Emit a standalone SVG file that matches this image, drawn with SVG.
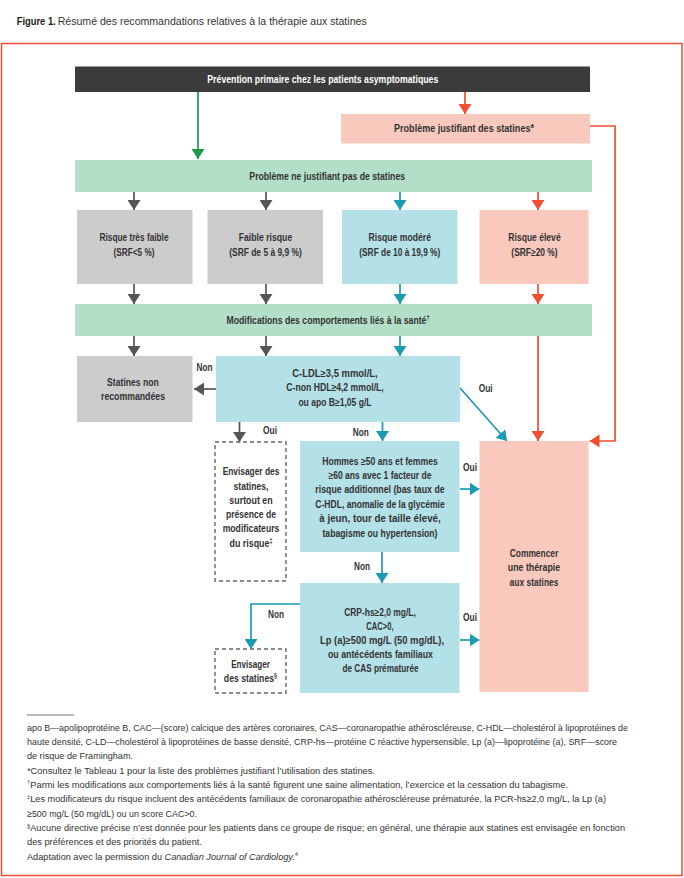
<svg xmlns="http://www.w3.org/2000/svg" width="684" height="878" viewBox="0 0 684 878">
<style>
text{font-family:"Liberation Sans",Arial,sans-serif;}
.b{font-size:10.3px;font-weight:bold;fill:#333;text-anchor:middle;}
.w{fill:#fff;}
.lbl{font-size:10.3px;font-weight:bold;fill:#333;text-anchor:middle;}
.fn{font-size:9.6px;fill:#333;}
.sup{font-size:6.5px;}
.fsup{font-size:6px;}
.dark{fill:#3b3b3b;}
.pink{fill:#f9c9bd;}
.green{fill:#b3dfc8;}
.gray{fill:#cccccc;}
.teal{fill:#b3e1e7;}
.dash{fill:#fff;stroke:#666;stroke-width:1.4;stroke-dasharray:4,3;}
.cg{fill:none;stroke:#555;stroke-width:1.7;}
.ct{fill:none;stroke:#1b9bb2;stroke-width:1.7;}
.cr{fill:none;stroke:#ef4e32;stroke-width:1.7;}
.cgr{fill:none;stroke:#1f9a4c;stroke-width:1.7;}
</style>
<defs>
<marker id="ag" viewBox="0 0 10 13" refX="10" refY="6.5" markerWidth="10" markerHeight="13" markerUnits="userSpaceOnUse" orient="auto"><path d="M0,0 L10,6.5 L0,13 z" fill="#555"/></marker>
<marker id="at" viewBox="0 0 10 13" refX="10" refY="6.5" markerWidth="10" markerHeight="13" markerUnits="userSpaceOnUse" orient="auto"><path d="M0,0 L10,6.5 L0,13 z" fill="#1b9bb2"/></marker>
<marker id="ar" viewBox="0 0 10 13" refX="10" refY="6.5" markerWidth="10" markerHeight="13" markerUnits="userSpaceOnUse" orient="auto"><path d="M0,0 L10,6.5 L0,13 z" fill="#ef4e32"/></marker>
<marker id="agr" viewBox="0 0 10 13" refX="10" refY="6.5" markerWidth="10" markerHeight="13" markerUnits="userSpaceOnUse" orient="auto"><path d="M0,0 L10,6.5 L0,13 z" fill="#1f9a4c"/></marker>
</defs>
<rect width="684" height="878" fill="#fff"/>
<text x="16.7" y="25" font-size="11.5" font-weight="bold" fill="#222" textLength="39" lengthAdjust="spacingAndGlyphs">Figure 1.</text>
<text x="57.7" y="25" font-size="11.5" fill="#333" textLength="309" lengthAdjust="spacingAndGlyphs">Résumé des recommandations relatives à la thérapie aux statines</text>
<rect id="frame" x="1.5" y="43.5" width="680.5" height="832" fill="none" stroke="#ef4e32" stroke-width="1.5"/>

<g id="connectors">
<path class="cgr" d="M198,92 V159" marker-end="url(#agr)"/>
<path class="cr" d="M465,92 V114" marker-end="url(#ar)"/>
<path class="cr" d="M590,126 H615 V441 H589.5" marker-end="url(#ar)"/>
<path class="cg" d="M134,192 V210" marker-end="url(#ag)"/>
<path class="cg" d="M266,192 V210" marker-end="url(#ag)"/>
<path class="ct" d="M400,192 V210" marker-end="url(#at)"/>
<path class="cr" d="M538,192 V210" marker-end="url(#ar)"/>
<path class="cg" d="M134,284 V304" marker-end="url(#ag)"/>
<path class="cg" d="M266,284 V304" marker-end="url(#ag)"/>
<path class="ct" d="M400,284 V304" marker-end="url(#at)"/>
<path class="cr" d="M538,284 V304" marker-end="url(#ar)"/>
<path class="cg" d="M134,336 V356" marker-end="url(#ag)"/>
<path class="cg" d="M266,336 V356" marker-end="url(#ag)"/>
<path class="ct" d="M400,336 V356" marker-end="url(#at)"/>
<path class="cr" d="M538,336 V441" marker-end="url(#ar)"/>
<path class="cg" d="M216,389 H194" marker-end="url(#ag)"/>
<path class="ct" d="M460,388 L507,441" marker-end="url(#at)"/>
<path class="cg" d="M239.5,422 V442" marker-end="url(#ag)"/>
<path class="ct" d="M382.5,422 V441" marker-end="url(#at)"/>
<path class="ct" d="M460,489 H479.5" marker-end="url(#at)"/>
<path class="ct" d="M382,552 V583" marker-end="url(#at)"/>
<path class="ct" d="M460,640 H479.5" marker-end="url(#at)"/>
<path class="ct" d="M300,604 H251 V649" marker-end="url(#at)"/>
<text class="lbl" x="204.6" y="370.5" textLength="16" lengthAdjust="spacingAndGlyphs">Non</text>
<text class="lbl" x="485.7" y="391.5" textLength="14" lengthAdjust="spacingAndGlyphs">Oui</text>
<text class="lbl" x="270" y="433.5" textLength="14" lengthAdjust="spacingAndGlyphs">Oui</text>
<text class="lbl" x="360.7" y="435.5" textLength="16" lengthAdjust="spacingAndGlyphs">Non</text>
<text class="lbl" x="470" y="470.5" textLength="14" lengthAdjust="spacingAndGlyphs">Oui</text>
<text class="lbl" x="362" y="569.5" textLength="16" lengthAdjust="spacingAndGlyphs">Non</text>
<text class="lbl" x="470" y="620.5" textLength="14" lengthAdjust="spacingAndGlyphs">Oui</text>
<text class="lbl" x="276" y="617.5" textLength="16" lengthAdjust="spacingAndGlyphs">Non</text>
</g>

<g id="n-prevention">
<rect class="dark" x="75" y="66.5" width="515" height="25.5"/>
<text class="b w" x="322.8" y="83" textLength="231" lengthAdjust="spacingAndGlyphs">Prévention primaire chez les patients asymptomatiques</text>
</g>
<g id="n-justifiant">
<rect class="pink" x="341" y="114" width="249" height="29.5"/>
<text class="b" x="464" y="132" textLength="140" lengthAdjust="spacingAndGlyphs">Problème justifiant des statines*</text>
</g>
<g id="n-nejustifiant">
<rect class="green" x="75" y="160" width="517" height="32"/>
<text class="b" x="327.2" y="179.5" textLength="155.7" lengthAdjust="spacingAndGlyphs">Problème ne justifiant pas de statines</text>
</g>
<g id="n-tresfaible">
<rect class="gray" x="77" y="210" width="115.5" height="74"/>
<text class="b" x="134" y="240.5" textLength="69" lengthAdjust="spacingAndGlyphs">Risque très faible</text>
<text class="b" x="134" y="255.5" textLength="41" lengthAdjust="spacingAndGlyphs">(SRF&lt;5 %)</text>
</g>
<g id="n-faible">
<rect class="gray" x="207.5" y="210" width="115.5" height="74"/>
<text class="b" x="265.5" y="240.5" textLength="53.5" lengthAdjust="spacingAndGlyphs">Faible risque</text>
<text class="b" x="265.5" y="255.5" textLength="72.5" lengthAdjust="spacingAndGlyphs">(SRF de 5 à 9,9 %)</text>
</g>
<g id="n-modere">
<rect class="teal" x="342" y="210" width="115.5" height="74"/>
<text class="b" x="399.8" y="240.5" textLength="62.5" lengthAdjust="spacingAndGlyphs">Risque modéré</text>
<text class="b" x="399.8" y="255.5" textLength="81" lengthAdjust="spacingAndGlyphs">(SRF de 10 à 19,9 %)</text>
</g>
<g id="n-eleve">
<rect class="pink" x="479.5" y="210" width="109" height="74"/>
<text class="b" x="534.5" y="240.5" textLength="52.3" lengthAdjust="spacingAndGlyphs">Risque élevé</text>
<text class="b" x="534.5" y="255.5" textLength="46.3" lengthAdjust="spacingAndGlyphs">(SRF≥20 %)</text>
</g>
<g id="n-modifications">
<rect class="green" x="75" y="304" width="517" height="32"/>
<text class="b" x="328" y="323.5" textLength="203" lengthAdjust="spacingAndGlyphs">Modifications des comportements liés à la santé<tspan class="sup" dy="-4">†</tspan></text>
</g>
<g id="n-nonrecommandees">
<rect class="gray" x="77" y="356" width="115.5" height="66"/>
<text class="b" x="133" y="385.5" textLength="51.8" lengthAdjust="spacingAndGlyphs">Statines non</text>
<text class="b" x="133" y="399.5" textLength="64" lengthAdjust="spacingAndGlyphs">recommandées</text>
</g>
<g id="n-cldl">
<rect class="teal" x="216" y="356" width="244" height="66"/>
<text class="b" x="335" y="376.5" textLength="85.4" lengthAdjust="spacingAndGlyphs">C-LDL≥3,5 mmol/L,</text>
<text class="b" x="335" y="391" textLength="97.5" lengthAdjust="spacingAndGlyphs">C-non HDL≥4,2 mmol/L,</text>
<text class="b" x="335" y="405.5" textLength="73.2" lengthAdjust="spacingAndGlyphs">ou apo B≥1,05 g/L</text>
</g>
<g id="n-envisager1">
<rect class="dash" x="215" y="442" width="71" height="139"/>
<text class="b" x="251" y="475" textLength="56.7" lengthAdjust="spacingAndGlyphs">Envisager des</text>
<text class="b" x="251" y="489.5" textLength="35" lengthAdjust="spacingAndGlyphs">statines,</text>
<text class="b" x="251" y="504" textLength="43.3" lengthAdjust="spacingAndGlyphs">surtout en</text>
<text class="b" x="251" y="518" textLength="50" lengthAdjust="spacingAndGlyphs">présence de</text>
<text class="b" x="251" y="532" textLength="56.7" lengthAdjust="spacingAndGlyphs">modificateurs</text>
<text class="b" x="251" y="546.5" textLength="43" lengthAdjust="spacingAndGlyphs">du risque<tspan class="sup" dy="-4">‡</tspan></text>
</g>
<g id="n-hommes">
<rect class="teal" x="300" y="441" width="159.5" height="111"/>
<text class="b" x="380" y="464.5" textLength="115.7" lengthAdjust="spacingAndGlyphs">Hommes ≥50 ans et femmes</text>
<text class="b" x="380" y="478.9" textLength="102.9" lengthAdjust="spacingAndGlyphs">≥60 ans avec 1 facteur de</text>
<text class="b" x="380" y="493.3" textLength="129.3" lengthAdjust="spacingAndGlyphs">risque additionnel (bas taux de</text>
<text class="b" x="380" y="507.7" textLength="129.3" lengthAdjust="spacingAndGlyphs">C-HDL, anomalie de la glycémie</text>
<text class="b" x="380" y="522.1" textLength="121.4" lengthAdjust="spacingAndGlyphs">à jeun, tour de taille élevé,</text>
<text class="b" x="380" y="536.5" textLength="115" lengthAdjust="spacingAndGlyphs">tabagisme ou hypertension)</text>
</g>
<g id="n-commencer">
<rect class="pink" x="479.5" y="441" width="109" height="251"/>
<text class="b" x="534" y="556.5" textLength="48.5" lengthAdjust="spacingAndGlyphs">Commencer</text>
<text class="b" x="534" y="571" textLength="52.3" lengthAdjust="spacingAndGlyphs">une thérapie</text>
<text class="b" x="534" y="585.5" textLength="49" lengthAdjust="spacingAndGlyphs">aux statines</text>
</g>
<g id="n-crp">
<rect class="teal" x="300" y="583" width="159.5" height="110"/>
<text class="b" x="380" y="615.5" textLength="71.7" lengthAdjust="spacingAndGlyphs">CRP-hs≥2,0 mg/L,</text>
<text class="b" x="380" y="629.7" textLength="27.3" lengthAdjust="spacingAndGlyphs">CAC&gt;0,</text>
<text class="b" x="382" y="643.9" textLength="124" lengthAdjust="spacingAndGlyphs">Lp (a)≥500 mg/L (50 mg/dL),</text>
<text class="b" x="380.5" y="658.1" textLength="105" lengthAdjust="spacingAndGlyphs">ou antécédents familiaux</text>
<text class="b" x="380.5" y="672.3" textLength="76" lengthAdjust="spacingAndGlyphs">de CAS prématurée</text>
</g>
<g id="n-envisager2">
<rect class="dash" x="215" y="649" width="71" height="44"/>
<text class="b" x="250.5" y="667.5" textLength="38.7" lengthAdjust="spacingAndGlyphs">Envisager</text>
<text class="b" x="250.5" y="681.5" textLength="53.3" lengthAdjust="spacingAndGlyphs">des statines<tspan class="sup" dy="-4">§</tspan></text>
</g>

<g id="footnotes">
<line x1="27" y1="715" x2="74" y2="715" stroke="#555" stroke-width="0.8"/>
<text class="fn" x="27" y="730.5" textLength="601" lengthAdjust="spacingAndGlyphs">apo B—apolipoprotéine B, CAC—(score) calcique des artères coronaires, CAS—coronaropathie athéroscléreuse, C-HDL—cholestérol à lipoprotéines de</text>
<text class="fn" x="27" y="744.9" textLength="590" lengthAdjust="spacingAndGlyphs">haute densité, C-LD—cholestérol à lipoprotéines de basse densité, CRP-hs—protéine C réactive hypersensible, Lp (a)—lipoprotéine (a), SRF—score</text>
<text class="fn" x="27" y="759.2" textLength="106" lengthAdjust="spacingAndGlyphs">de risque de Framingham.</text>
<text class="fn" x="27" y="773.6" textLength="348" lengthAdjust="spacingAndGlyphs">*Consultez le Tableau 1 pour la liste des problèmes justifiant l’utilisation des statines.</text>
<text class="fn" x="27" y="787.9" textLength="541" lengthAdjust="spacingAndGlyphs"><tspan class="fsup" dy="-3.5">†</tspan><tspan dy="3.5">Parmi les modifications aux comportements liés à la santé figurent une saine alimentation, l’exercice et la cessation du tabagisme.</tspan></text>
<text class="fn" x="27" y="802.3" textLength="579" lengthAdjust="spacingAndGlyphs"><tspan class="fsup" dy="-3.5">‡</tspan><tspan dy="3.5">Les modificateurs du risque incluent des antécédents familiaux de coronaropathie athéroscléreuse prématurée, la PCR-hs≥2,0 mg/L, la Lp (a)</tspan></text>
<text class="fn" x="27" y="816.6" textLength="170" lengthAdjust="spacingAndGlyphs">≥500 mg/L (50 mg/dL) ou un score CAC&gt;0.</text>
<text class="fn" x="27" y="831" textLength="598" lengthAdjust="spacingAndGlyphs"><tspan class="fsup" dy="-3.5">§</tspan><tspan dy="3.5">Aucune directive précise n’est donnée pour les patients dans ce groupe de risque; en général, une thérapie aux statines est envisagée en fonction</tspan></text>
<text class="fn" x="27" y="845.3" textLength="175" lengthAdjust="spacingAndGlyphs">des préférences et des priorités du patient.</text>
<text class="fn" x="27" y="859.7" textLength="271" lengthAdjust="spacingAndGlyphs">Adaptation avec la permission du <tspan font-style="italic">Canadian Journal of Cardiology.</tspan><tspan class="fsup" dy="-3.5">4</tspan></text>
</g>
</svg>
